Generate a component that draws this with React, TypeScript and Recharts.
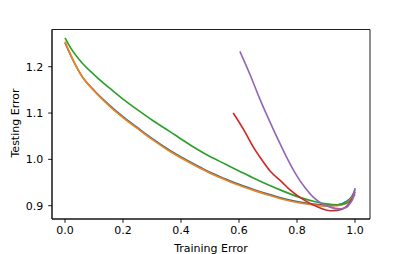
import React from 'react';
import { LineChart, Line, XAxis, YAxis, ReferenceArea } from 'recharts';

const blueX = [0.0, 0.02, 0.059, 0.1, 0.155, 0.2, 0.259, 0.3, 0.362, 0.4, 0.466, 0.5, 0.552, 0.6, 0.655, 0.7, 0.75, 0.8, 0.85, 0.9, 0.94, 0.97, 0.99, 1.0];
const blueY = [1.252, 1.224, 1.179, 1.149, 1.116, 1.092, 1.064, 1.045, 1.019, 1.005, 0.983, 0.972, 0.958, 0.946, 0.934, 0.925, 0.916, 0.909, 0.904, 0.901, 0.902, 0.909, 0.921, 0.935];

const orangeX = [0.0, 0.02, 0.059, 0.1, 0.155, 0.2, 0.259, 0.3, 0.362, 0.4, 0.466, 0.5, 0.552, 0.6, 0.655, 0.7, 0.75, 0.8, 0.85, 0.9, 0.94, 0.97, 0.99, 1.0];
const orangeY = [1.254, 1.225, 1.179, 1.148, 1.114, 1.09, 1.062, 1.043, 1.017, 1.003, 0.981, 0.97, 0.956, 0.944, 0.932, 0.923, 0.914, 0.907, 0.902, 0.899, 0.9, 0.906, 0.918, 0.93];

const greenX = [0.0, 0.02, 0.059, 0.1, 0.128, 0.155, 0.2, 0.259, 0.3, 0.362, 0.4, 0.466, 0.5, 0.552, 0.6, 0.655, 0.7, 0.75, 0.81, 0.86, 0.9, 0.94, 0.97, 0.99, 1.0];
const greenY = [1.262, 1.24, 1.208, 1.183, 1.167, 1.153, 1.13, 1.103, 1.085, 1.06, 1.044, 1.018, 1.006, 0.99, 0.975, 0.958, 0.945, 0.932, 0.918, 0.909, 0.904, 0.902, 0.905, 0.915, 0.925];

const redX = [0.58, 0.62, 0.649, 0.672, 0.707, 0.75, 0.776, 0.81, 0.845, 0.88, 0.914, 0.94, 0.97, 0.99, 1.0];
const redY = [1.1, 1.06, 1.027, 1.005, 0.975, 0.95, 0.934, 0.918, 0.905, 0.895, 0.889, 0.89, 0.898, 0.915, 0.93];

const purpleX = [0.603, 0.64, 0.672, 0.7, 0.73, 0.764, 0.799, 0.83, 0.855, 0.885, 0.914, 0.948, 0.97, 0.983, 0.995, 1.0];
const purpleY = [1.233, 1.18, 1.13, 1.09, 1.049, 1.005, 0.965, 0.937, 0.919, 0.905, 0.897, 0.893, 0.896, 0.905, 0.92, 0.938];

const xTicks = [0.0, 0.2, 0.4, 0.6, 0.8, 1.0];
const yTicks = [0.9, 1.0, 1.1, 1.2];

const xDomain: [number, number] = [-0.0448, 1.0517];
const yDomain: [number, number] = [0.8713, 1.2803];

const toData = (xs: number[], ys: number[]) => xs.map((x, i) => ({ x, y: ys[i] }));

const series = [
  { name: 'blue', color: '#1f77b4', data: toData(blueX, blueY) },
  { name: 'orange', color: '#ff7f0e', data: toData(orangeX, orangeY) },
  { name: 'green', color: '#2ca02c', data: toData(greenX, greenY) },
  { name: 'red', color: '#d62728', data: toData(redX, redY) },
  { name: 'purple', color: '#9467bd', data: toData(purpleX, purpleY) },
];

const font = 'DejaVu Sans';
const tickStyle = { fill: '#000', fontSize: 11, fontFamily: font };
const lineStyle = { stroke: '#000', strokeWidth: 0.88 };

export default function App() {
  return (
    <div style={{ position: 'absolute', left: 0, top: 0, width: 411, height: 254, background: '#fff' }}>
      <LineChart width={411} height={254} margin={{ top: 29.5, right: 41, bottom: 0, left: 0 }}>
        <XAxis
          dataKey="x"
          type="number"
          domain={xDomain}
          ticks={xTicks}
          allowDataOverflow
          tickFormatter={(v: number) => v.toFixed(1)}
          height={35}
          tickSize={3.85}
          tickMargin={3.5}
          tick={tickStyle}
          tickLine={lineStyle}
          axisLine={lineStyle}
          label={() => (
            <text x={211} y={251.5} textAnchor="middle" fontSize={11} fontFamily={font} fill="#000">
              Training Error
            </text>
          )}
        />
        <YAxis
          dataKey="y"
          type="number"
          domain={yDomain}
          ticks={yTicks}
          allowDataOverflow
          tickFormatter={(v: number) => v.toFixed(1)}
          width={52}
          tickSize={3.85}
          tickMargin={5}
          tick={tickStyle}
          tickLine={lineStyle}
          axisLine={lineStyle}
          label={() => (
            <text x={18.5} y={123} transform="rotate(-90, 18.5, 123)" textAnchor="middle" fontSize={11} fontFamily={font} fill="#000">
              Testing Error
            </text>
          )}
        />
        {series.map((s) => (
          <Line
            key={s.name}
            data={s.data}
            dataKey="y"
            type="monotone"
            stroke={s.color}
            strokeWidth={1.65}
            dot={false}
            isAnimationActive={false}
          />
        ))}
        <ReferenceArea
          x1={xDomain[0]}
          x2={xDomain[1]}
          y1={yDomain[0]}
          y2={yDomain[1]}
          fill="none"
          stroke="#000"
          strokeWidth={0.88}
          ifOverflow="visible"
        />
      </LineChart>
    </div>
  );
}
